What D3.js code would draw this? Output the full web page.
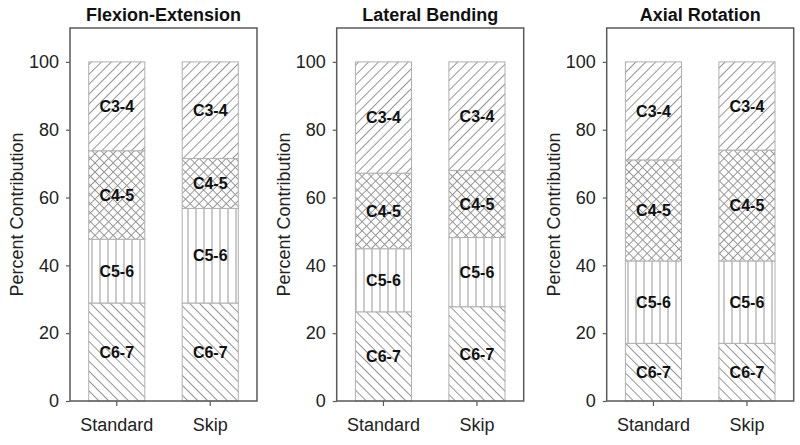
<!DOCTYPE html>
<html><head><meta charset="utf-8">
<script src="https://cdn.jsdelivr.net/npm/d3@7"></script>
<style>
html,body{margin:0;padding:0;background:#fff;}
text{font-family:"Liberation Sans",Arial,sans-serif;}
</style></head>
<body><svg id="c" width="800" height="445"></svg>
<script>
const panelTitles = ["Flexion-Extension", "Lateral Bending", "Axial Rotation"];
const categories = ["Standard", "Skip"];
const levels = ["C6-7", "C5-6", "C4-5", "C3-4"];
// segment percentages per category, bottom (C6-7) to top (C3-4)
const flexionStandard = [28.9, 18.8, 26.1, 26.2];
const flexionSkip     = [28.9, 27.9, 14.7, 28.5];
const lateralStandard = [26.3, 18.6, 22.3, 32.8];
const lateralSkip     = [27.8, 20.4, 19.8, 32.0];
const axialStandard   = [17.0, 24.3, 29.8, 28.9];
const axialSkip       = [17.0, 24.3, 32.7, 26.0];
const yTicks = [0, 20, 40, 60, 80, 100];
const yLabel = "Percent Contribution";

const panelData = [
  [flexionStandard, flexionSkip],
  [lateralStandard, lateralSkip],
  [axialStandard, axialSkip]
];

const svg = d3.select("#c");
const defs = svg.append("defs");
const hatchColor = "#959595";

function linePattern(id, angle, spacing, cross) {
  const p = defs.append("pattern").attr("id", id)
    .attr("patternUnits", "userSpaceOnUse")
    .attr("width", spacing).attr("height", spacing)
    .attr("patternTransform", `rotate(${angle})`);
  p.append("line").attr("x1", spacing / 2).attr("y1", 0).attr("x2", spacing / 2).attr("y2", spacing)
    .attr("stroke", hatchColor).attr("stroke-width", 1);
  if (cross) {
    p.append("line").attr("x1", 0).attr("y1", spacing / 2).attr("x2", spacing).attr("y2", spacing / 2)
      .attr("stroke", hatchColor).attr("stroke-width", 1);
  }
}
linePattern("p-C3-4", 45, 7, false);
linePattern("p-C4-5", 45, 6.4, true);
linePattern("p-C5-6", 0, 8, false);
linePattern("p-C6-7", -45, 7, false);

const panelLefts = [70, 336.7, 606.7];
const plotW = 187, plotTop = 28, plotBottom = 401;
const y = d3.scaleLinear().domain([0, 110]).range([plotBottom, plotTop]);

panelData.forEach((vals, pi) => {
  const left = panelLefts[pi];
  const g = svg.append("g");
  const x = d3.scaleBand().domain(categories).range([left, left + plotW])
    .paddingInner(0.4).paddingOuter(0.2);

  const rows = categories.map((c, ci) => {
    const r = { cat: c };
    levels.forEach((l, li) => r[l] = vals[ci][li]);
    return r;
  });
  const series = d3.stack().keys(levels)(rows);

  series.forEach(s => {
    const sg = g.append("g");
    sg.selectAll("rect.b").data(s).join("rect").attr("class", "b")
      .attr("x", d => x(d.data.cat))
      .attr("width", x.bandwidth())
      .attr("y", d => y(d[1]))
      .attr("height", d => y(d[0]) - y(d[1]))
      .attr("fill", "#fff");
    sg.selectAll("rect.h").data(s).join("rect").attr("class", "h")
      .attr("x", d => x(d.data.cat))
      .attr("width", x.bandwidth())
      .attr("y", d => y(d[1]))
      .attr("height", d => y(d[0]) - y(d[1]))
      .attr("fill", `url(#p-${s.key})`)
      .attr("stroke", "#b0b0b0").attr("stroke-width", 1);
  });
  series.forEach(s => {
    g.selectAll(null).data(s).join("text")
      .attr("x", d => x(d.data.cat) + x.bandwidth() / 2)
      .attr("y", d => y((d[0] + d[1]) / 2))
      .attr("dy", "0.36em")
      .attr("text-anchor", "middle")
      .attr("font-size", 16).attr("font-weight", "bold").attr("fill", "#111")
      .text(s.key);
  });

  // frame
  g.append("rect").attr("x", left).attr("y", plotTop).attr("width", plotW).attr("height", plotBottom - plotTop)
    .attr("fill", "none").attr("stroke", "#5a5a5a").attr("stroke-width", 1.5);

  const ya = g.append("g").attr("transform", `translate(${left},0)`)
    .call(d3.axisLeft(y).tickValues(yTicks).tickSize(4).tickPadding(7));
  ya.select(".domain").remove();
  ya.selectAll("line").attr("stroke", "#5a5a5a").attr("stroke-width", 1.2);
  ya.selectAll("text").attr("font-size", 18).attr("fill", "#222")
    .style("font-family", '"Liberation Sans",Arial,sans-serif');

  const xa = g.append("g").attr("transform", `translate(0,${plotBottom})`)
    .call(d3.axisBottom(x).tickSize(5).tickPadding(12));
  xa.select(".domain").remove();
  xa.selectAll("line").attr("stroke", "#5a5a5a").attr("stroke-width", 1.2);
  xa.selectAll("text").attr("font-size", 18).attr("fill", "#222")
    .style("font-family", '"Liberation Sans",Arial,sans-serif');

  g.append("text")
    .attr("transform", `translate(${left - 53},${(plotTop + plotBottom) / 2}) rotate(-90)`)
    .attr("text-anchor", "middle").attr("dy", "0.36em")
    .attr("font-size", 18).attr("fill", "#222").text(yLabel);

  g.append("text").attr("x", left + plotW / 2).attr("y", 21)
    .attr("text-anchor", "middle").attr("font-size", 18).attr("font-weight", "bold").attr("fill", "#111")
    .text(panelTitles[pi]);
});
</script></body></html>
